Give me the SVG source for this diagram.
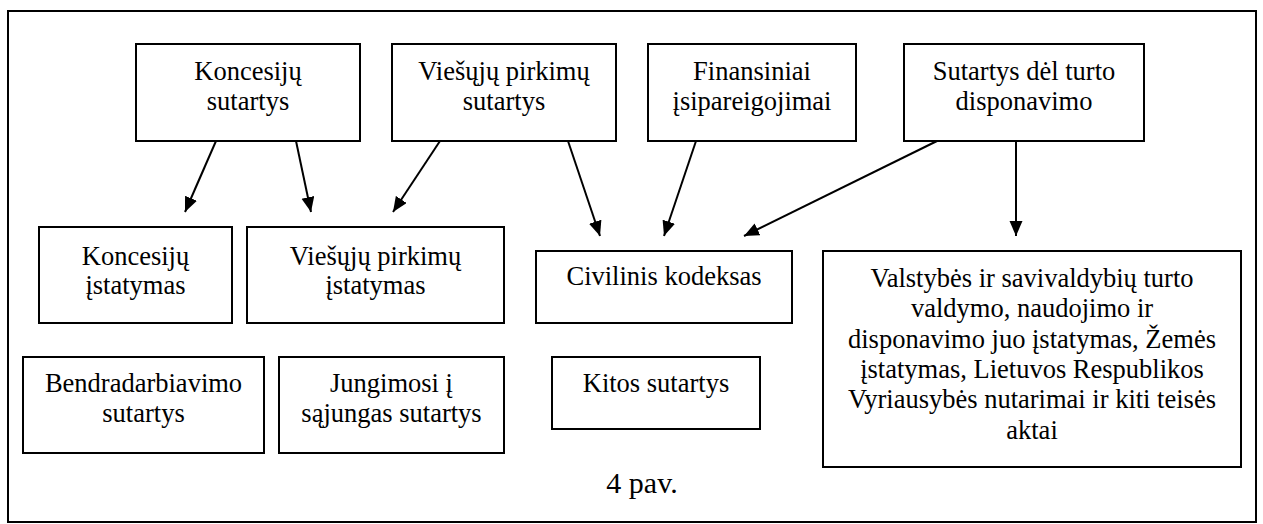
<svg xmlns="http://www.w3.org/2000/svg" width="1263" height="524" viewBox="0 0 1263 524">
<style>
  .box { fill: #ffffff; stroke: #000000; stroke-width: 2; }
  .frame { fill: #ffffff; stroke: #000000; stroke-width: 2; }
  .lbl { font-size: 26.5px; fill: #000000; text-anchor: middle; }
  .cap { font-size: 30px; fill: #000000; text-anchor: middle; }
  .conn { stroke: #000000; stroke-width: 2; fill: none; marker-end: url(#arrow); }
</style>
<defs>
  <marker id="arrow" markerUnits="userSpaceOnUse" markerWidth="16" markerHeight="14" refX="15" refY="6.5" orient="auto">
    <path d="M0,0 L15,6.5 L0,13 Z" fill="#000000"/>
  </marker>
</defs>
<rect class="frame" x="8" y="11" width="1248" height="511"/>

<g font-family="'Liberation Serif', 'DejaVu Serif', 'Times New Roman', Times, serif">
<g id="n-koncesiju-sutartys">
  <rect class="box" x="136" y="44" width="224" height="97"/>
  <text class="lbl" x="248" y="80">Koncesijų</text>
  <text class="lbl" x="248" y="110">sutartys</text>
</g>
<g id="n-viesuju-sutartys">
  <rect class="box" x="392" y="44" width="224" height="97"/>
  <text class="lbl" x="504" y="80">Viešųjų pirkimų</text>
  <text class="lbl" x="504" y="110">sutartys</text>
</g>
<g id="n-finansiniai">
  <rect class="box" x="648" y="44" width="208" height="97"/>
  <text class="lbl" x="752" y="80">Finansiniai</text>
  <text class="lbl" x="752" y="110">įsipareigojimai</text>
</g>
<g id="n-turto">
  <rect class="box" x="904" y="44" width="240" height="97"/>
  <text class="lbl" x="1024" y="80">Sutartys dėl turto</text>
  <text class="lbl" x="1024" y="110">disponavimo</text>
</g>

<g id="n-koncesiju-istatymas">
  <rect class="box" x="39" y="227" width="193" height="96"/>
  <text class="lbl" x="135.5" y="265">Koncesijų</text>
  <text class="lbl" x="135.5" y="294">įstatymas</text>
</g>
<g id="n-viesuju-istatymas">
  <rect class="box" x="247" y="227" width="257" height="96"/>
  <text class="lbl" x="375.5" y="265">Viešųjų pirkimų</text>
  <text class="lbl" x="375.5" y="294">įstatymas</text>
</g>
<g id="n-civilinis">
  <rect class="box" x="536" y="251" width="256" height="72"/>
  <text class="lbl" x="664" y="285">Civilinis kodeksas</text>
</g>
<g id="n-valstybes">
  <rect class="box" x="823" y="251" width="418" height="216"/>
  <text class="lbl" x="1032" y="287">Valstybės ir savivaldybių turto</text>
  <text class="lbl" x="1032" y="317">valdymo, naudojimo ir</text>
  <text class="lbl" x="1032" y="348">disponavimo juo įstatymas, Žemės</text>
  <text class="lbl" x="1032" y="378">įstatymas, Lietuvos Respublikos</text>
  <text class="lbl" x="1032" y="408">Vyriausybės nutarimai ir kiti teisės</text>
  <text class="lbl" x="1032" y="439">aktai</text>
</g>

<g id="n-bendradarbiavimo">
  <rect class="box" x="23" y="357" width="241" height="96"/>
  <text class="lbl" x="143.5" y="392">Bendradarbiavimo</text>
  <text class="lbl" x="143.5" y="422">sutartys</text>
</g>
<g id="n-jungimosi">
  <rect class="box" x="279" y="357" width="225" height="96"/>
  <text class="lbl" x="391.5" y="392">Jungimosi į</text>
  <text class="lbl" x="391.5" y="422">sąjungas sutartys</text>
</g>
<g id="n-kitos">
  <rect class="box" x="552" y="357" width="208" height="72"/>
  <text class="lbl" x="656" y="392">Kitos sutartys</text>
</g>

<text class="cap" x="642" y="493">4 pav.</text>
</g>

<g id="connectors">
  <line class="conn" x1="216" y1="141" x2="185" y2="212"/>
  <line class="conn" x1="296" y1="141" x2="311" y2="212"/>
  <line class="conn" x1="440" y1="141" x2="393" y2="212"/>
  <line class="conn" x1="568" y1="141" x2="600" y2="236"/>
  <line class="conn" x1="696" y1="141" x2="664" y2="236"/>
  <line class="conn" x1="937" y1="141" x2="744" y2="236"/>
  <line class="conn" x1="1016" y1="141" x2="1016" y2="236"/>
</g>
</svg>
